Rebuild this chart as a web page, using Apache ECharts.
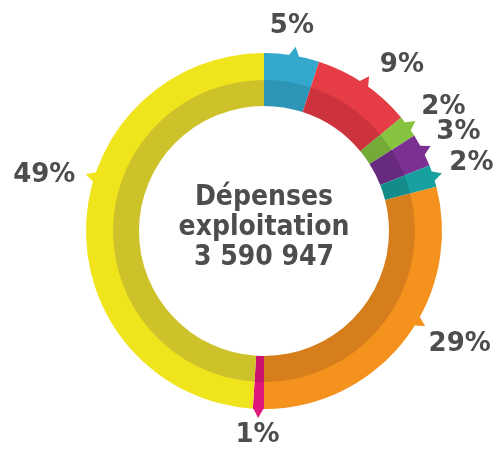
<!DOCTYPE html>
<html><head><meta charset="utf-8">
<script src="https://cdn.jsdelivr.net/npm/echarts@6/dist/echarts.min.js"></script>
<style>html,body{margin:0;padding:0;background:#fff}#c{width:502px;height:450px}</style>
</head><body><div id="c"></div>
<script>
// ---- data ----
const categories = ['Poste 1','Poste 2','Poste 3','Poste 4','Poste 5','Poste 6','Poste 7','Poste 8'];
const values = [5, 9, 2, 3, 2, 29, 1, 49];
const valueLabels = ['5%','9%','2%','3%','2%','29%','1%','49%'];
const centerTitle = ['Dépenses', 'exploitation', '3 590 947'];

// ---- styles ----
const outerColors = ['#34a8cc','#e63c45','#86c440','#7a3191','#16a09f','#f5921e','#e0187d','#f0e41c'];
const innerColors = ['#2d95b6','#cc333d','#74aa38','#682a7e','#138b8a','#d67e1b','#c9136f','#cdc22a'];
// position of the pointer / label along each slice (0 = start, 1 = end)
const pointerFrac = [0.54, 0.5, 0.5, 0.5, 0.5, 0.43, 0.5, 0.59];
const labelFrac   = [0.43, 0.67, 0.7, 0.5, 0.5, 0.425, 0.5, 0.57];
const textColor = '#4d4d4f';
const labelFont = 'bold 26px "DejaVu Sans"';
const centerFont = 'bold 28px "DejaVu Sans Condensed", "DejaVu Sans"';

const chart = echarts.init(document.getElementById('c'), null, {renderer: 'canvas'});
const mk = (cols) => categories.map((c, i) => ({name: c, value: values[i], itemStyle: {color: cols[i]}}));
chart.setOption({
  animation: false,
  backgroundColor: '#ffffff',
  series: [
    {type: 'pie', center: [264, 231], radius: [150, 178], startAngle: 90, clockwise: true,
     label: {show: false}, labelLine: {show: false}, silent: true, data: mk(outerColors)},
    {type: 'pie', center: [264, 231], radius: [125, 151], startAngle: 90, clockwise: true,
     label: {show: false}, labelLine: {show: false}, silent: true, data: mk(innerColors)}
  ]
});

const ctx = document.createElement('canvas').getContext('2d');
ctx.font = labelFont;
function addMarks() {
  const data = chart.getModel().getSeriesByIndex(0).getData();
  const g = [];
  let cx0 = 0, cy0 = 0;
  for (let i = 0; i < values.length; i++) {
    const L = data.getItemLayout(i);
    const cx = L.cx, cy = L.cy, r = L.r;
    cx0 = cx; cy0 = cy;
    const s = L.startAngle, e = L.endAngle;
    const t = s + pointerFrac[i] * (e - s);
    const d = 5.5 / r;
    g.push({type: 'polygon', silent: true, z: 10,
      shape: {points: [
        [cx + (r - 1) * Math.cos(t - d), cy + (r - 1) * Math.sin(t - d)],
        [cx + (r + 9) * Math.cos(t), cy + (r + 9) * Math.sin(t)],
        [cx + (r - 1) * Math.cos(t + d), cy + (r - 1) * Math.sin(t + d)]
      ]},
      style: {fill: outerColors[i]}});
    const tl = s + labelFrac[i] * (e - s);
    const w = ctx.measureText(valueLabels[i]).width;
    const h = 20;
    const ext = Math.abs(Math.cos(tl)) * w / 2 + Math.abs(Math.sin(tl)) * h / 2;
    const R = r + 16 + ext;
    g.push({type: 'text', silent: true, z: 10,
      x: cx + R * Math.cos(tl), y: cy + R * Math.sin(tl),
      style: {text: valueLabels[i], font: labelFont, fill: textColor, align: 'center', verticalAlign: 'middle'}});
  }
  g.push({type: 'text', silent: true, z: 10, x: cx0, y: cy0 - 3,
    style: {text: centerTitle.join('\n'), font: centerFont, lineHeight: 30,
            fill: textColor, align: 'center', verticalAlign: 'middle'}});
  chart.setOption({graphic: g});
}
try { addMarks(); } catch (err) { console.error('addMarks failed: ' + err.message); throw err; }
</script></body></html>
